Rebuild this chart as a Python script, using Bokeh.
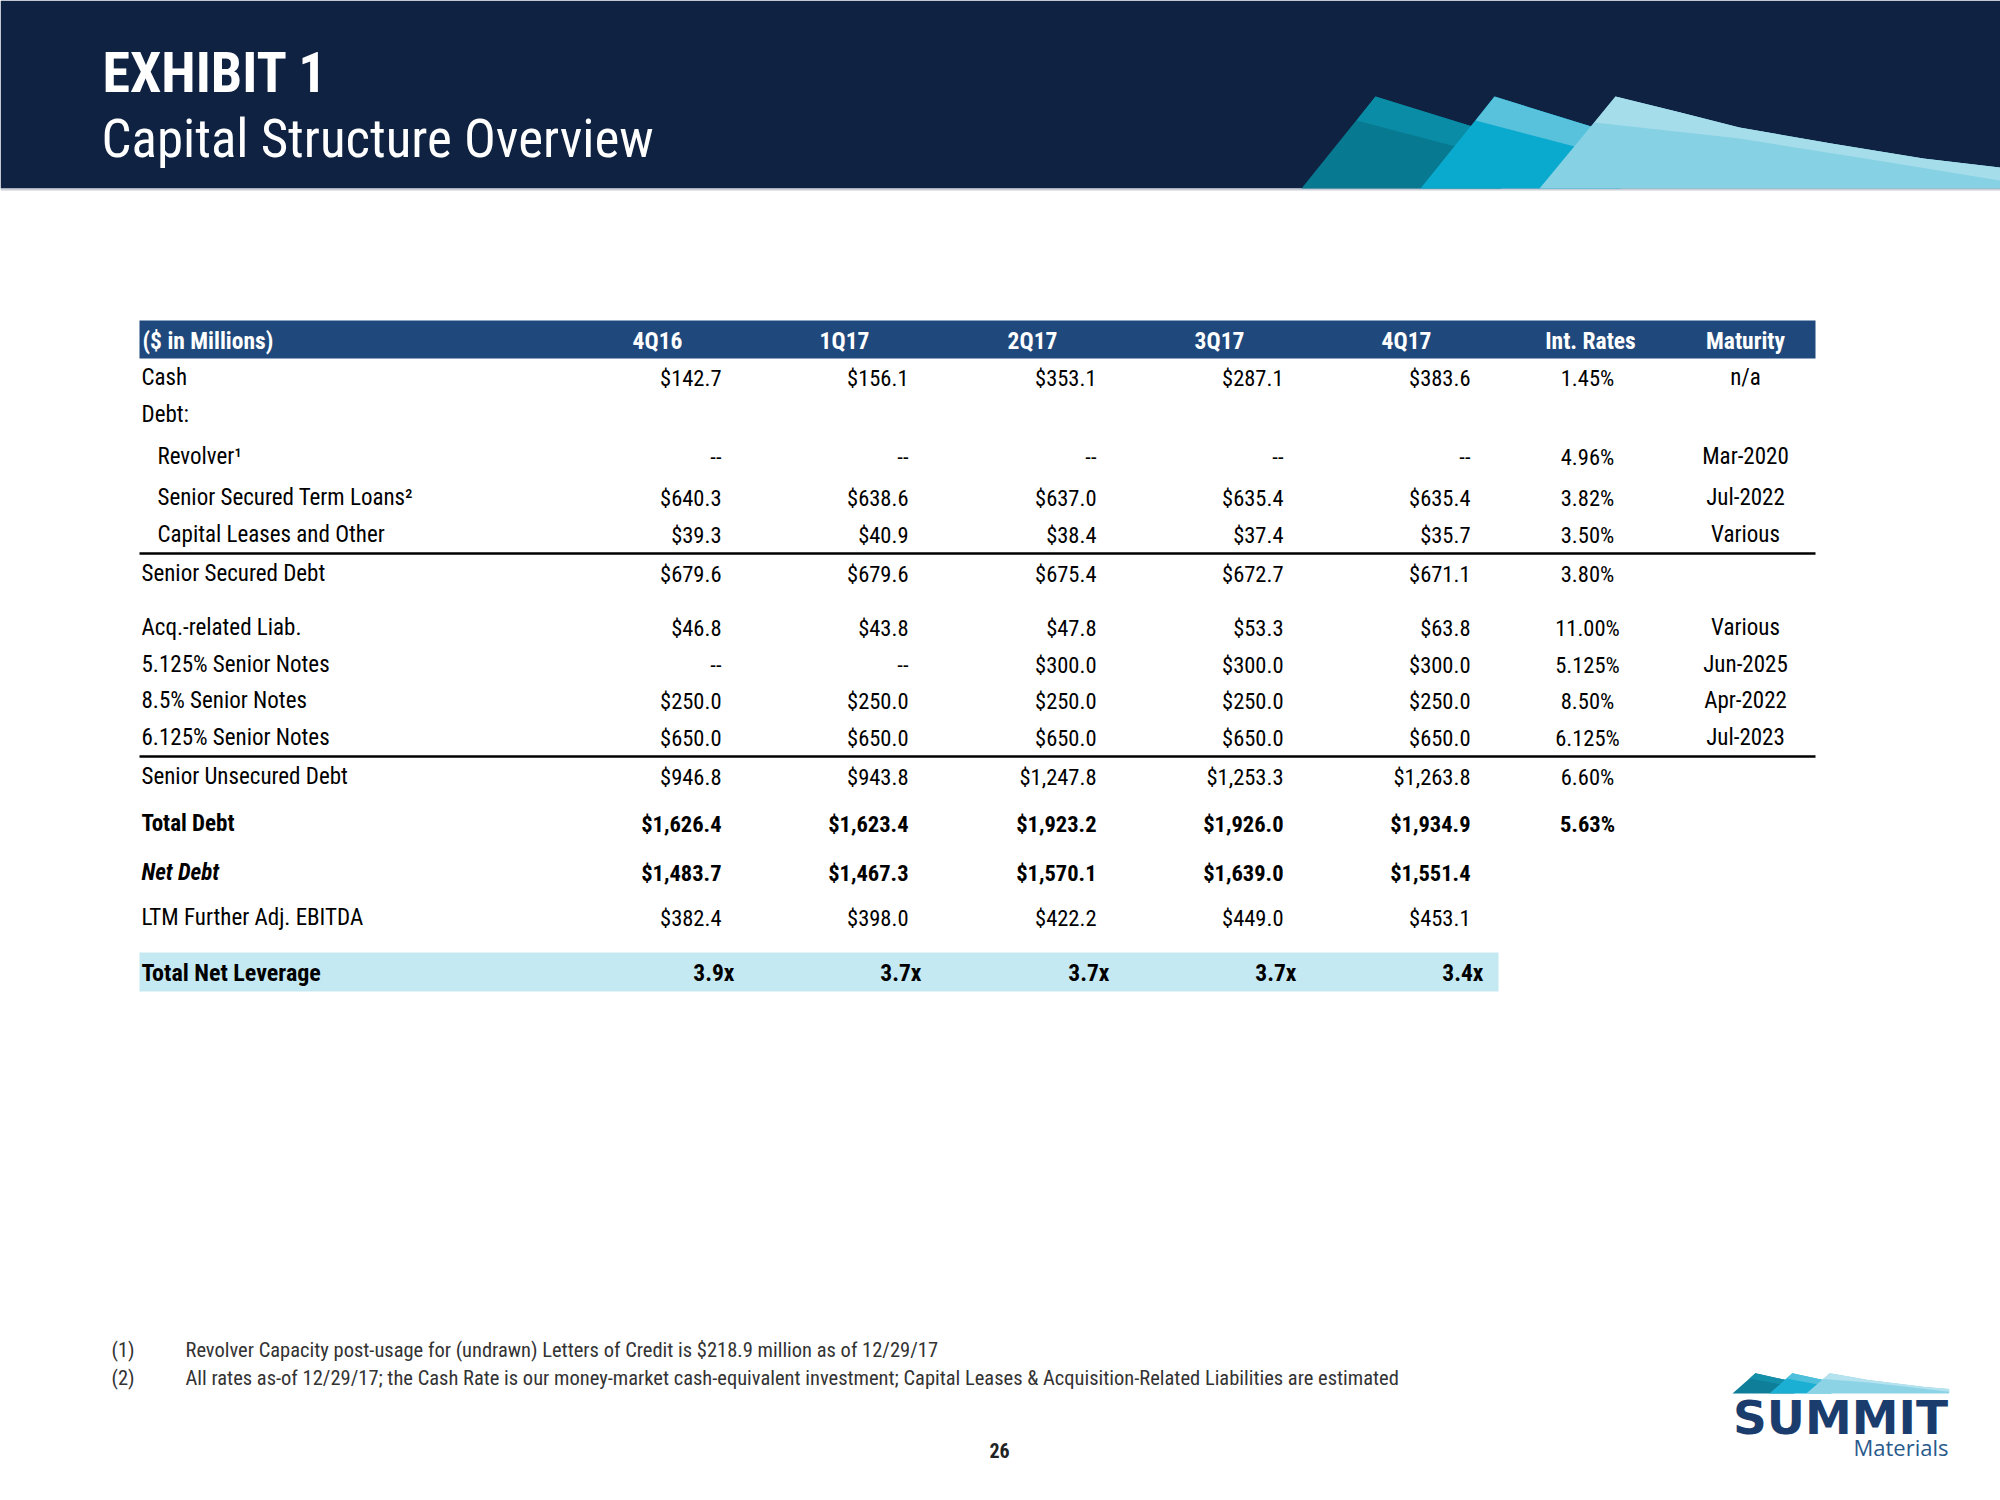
from bokeh.plotting import figure
from bokeh.models import Range1d, ColumnDataSource
from bokeh.core.properties import value
from bokeh.embed import file_html
from bokeh.resources import INLINE

NARROW = "Roboto Condensed, Liberation Sans"

# ---------------- data ----------------
title_1 = "EXHIBIT 1"
title_2 = "Capital Structure Overview"
corner_label = "($ in Millions)"
periods = ["4Q16", "1Q17", "2Q17", "3Q17", "4Q17"]
rate_header = "Int. Rates"
maturity_header = "Maturity"

cash = [142.7, 156.1, 353.1, 287.1, 383.6]
revolver = [None, None, None, None, None]
term_loans = [640.3, 638.6, 637.0, 635.4, 635.4]
capital_leases = [39.3, 40.9, 38.4, 37.4, 35.7]
senior_secured_debt = [679.6, 679.6, 675.4, 672.7, 671.1]
acq_liab = [46.8, 43.8, 47.8, 53.3, 63.8]
notes_5125 = [None, None, 300.0, 300.0, 300.0]
notes_85 = [250.0, 250.0, 250.0, 250.0, 250.0]
notes_6125 = [650.0, 650.0, 650.0, 650.0, 650.0]
senior_unsecured_debt = [946.8, 943.8, 1247.8, 1253.3, 1263.8]
total_debt = [1626.4, 1623.4, 1923.2, 1926.0, 1934.9]
net_debt = [1483.7, 1467.3, 1570.1, 1639.0, 1551.4]
ltm_ebitda = [382.4, 398.0, 422.2, 449.0, 453.1]
net_leverage = [3.9, 3.7, 3.7, 3.7, 3.4]

row_labels = ["Cash", "Debt:", "Revolver\u00b9", "Senior Secured Term Loans\u00b2",
              "Capital Leases and Other", "Senior Secured Debt", "Acq.-related Liab.",
              "5.125% Senior Notes", "8.5% Senior Notes", "6.125% Senior Notes",
              "Senior Unsecured Debt", "Total Debt", "Net Debt", "LTM Further Adj. EBITDA"]
row_values = [cash, None, revolver, term_loans, capital_leases, senior_secured_debt,
              acq_liab, notes_5125, notes_85, notes_6125, senior_unsecured_debt,
              total_debt, net_debt, ltm_ebitda]
int_rates = ["1.45%", "", "4.96%", "3.82%", "3.50%", "3.80%", "11.00%", "5.125%",
             "8.50%", "6.125%", "6.60%", "5.63%", "", ""]
maturities = ["n/a", "", "Mar-2020", "Jul-2022", "Various", "", "Various", "Jun-2025",
              "Apr-2022", "Jul-2023", "", "", "", ""]
leverage_label = "Total Net Leverage"

footnote_marks = ["(1)", "(2)"]
footnotes = ["Revolver Capacity post-usage for (undrawn) Letters of Credit is $218.9 million as of 12/29/17",
             "All rates as-of 12/29/17; the Cash Rate is our money-market cash-equivalent investment; "
             "Capital Leases & Acquisition-Related Liabilities are estimated"]
page_number = "26"

# ---------------- layout (pixel positions on the 2000x1500 slide) ----------------
row_y = [377, 414, 456, 497, 534, 573, 627, 664, 700, 737, 776, 823, 872, 917]
row_indent = [0, 0, 1, 1, 1, 0, 0, 0, 0, 0, 0, 0, 0, 0]
row_style = ["n", "n", "n", "n", "n", "n", "n", "n", "n", "n", "n", "b", "bi", "n"]
col_right = [721, 908, 1096, 1283, 1470]
rate_x, mat_x = 1587, 1745
tbl_left, tbl_right = 139, 1815
rule_y = [553, 756]
lev_y = 972

W, H = 2000, 1500
p = figure(width=W, height=H, x_range=Range1d(0, W), y_range=Range1d(H, 0),
           output_backend="svg", toolbar_location=None, min_border=0)
p.axis.visible = False
p.grid.visible = False
p.outline_line_color = None
p.background_fill_color = "white"
p.border_fill_color = "white"


def txt(xs, ys, texts, size, align="left", style="normal", color="black",
        font=NARROW, baseline="middle"):
    src = ColumnDataSource(dict(x=xs, y=ys, t=texts))
    p.text("x", "y", "t", source=src, text_font=value(font), text_font_size=f"{size}px",
           text_align=align, text_baseline=baseline, text_font_style=style,
           text_color=color)


def mountains(x0, yb, sx, sy, cols):
    # three overlapping ridge shapes (decorative brand graphic)
    peaks = [0, 119, 238]
    for i, dx in enumerate(peaks):
        base_c, top_c = cols[i]
        if i < 2:
            body = [(dx, 0), (dx + 74, -92), (dx + 200, -53), (dx + 200, 0)]
            stripe = [(dx + 55, -68), (dx + 74, -92), (dx + 200, -53), (dx + 200, -30)]
        else:
            body = [(dx, 0), (dx + 76, -92), (dx + 141, -76), (dx + 200, -61), (dx + 292, -45),
                    (dx + 384, -30), (dx + 461, -21), (dx + 461, 0)]
            stripe = [(dx + 55, -66), (dx + 76, -92), (dx + 141, -76), (dx + 200, -61),
                      (dx + 292, -45), (dx + 384, -30), (dx + 461, -21), (dx + 461, -8),
                      (dx + 338, -28), (dx + 200, -50)]
        for poly, c in ((body, base_c), (stripe, top_c)):
            p.patch([x0 + sx * a for a, b in poly], [yb + sy * b for a, b in poly],
                    fill_color=c, line_color=None)


# header band
p.quad(left=0, right=2000, top=0, bottom=188, fill_color="#0F2241", line_color=None)
p.quad(left=0, right=2000, top=188, bottom=190, fill_color="#C9CED8", line_color=None)
mountains(1301, 188, 1.0, 1.0, [("#077A91", "#0B8CA6"), ("#0AAACF", "#58C1DC"),
                                 ("#86D1E4", "#A6DDEA")])
txt([102], [72], [title_1], 56, style="bold", color="white")
txt([101], [138], [title_2], 53, color="white")

# table header
p.quad(left=tbl_left, right=tbl_right, top=320, bottom=358, fill_color="#1F497D", line_color=None)
txt([142], [340], [corner_label], 23.5, style="bold", color="white")
txt([c - 64 for c in col_right], [340] * 5, periods, 23.5, align="center", style="bold", color="white")
txt([rate_x + 3], [340], [rate_header], 23.5, align="center", style="bold", color="white")
txt([mat_x], [340], [maturity_header], 23.5, align="center", style="bold", color="white")

# body rows
for lab, vals, rate, mat, y, ind, st in zip(row_labels, row_values, int_rates, maturities,
                                            row_y, row_indent, row_style):
    lab_style = {"n": "normal", "b": "bold", "bi": "bold italic"}[st]
    val_style = "normal" if st == "n" else "bold"
    txt([141 + 16 * ind], [y], [lab], 23, style=lab_style)
    if vals is not None:
        strs = ["--" if v is None else "${:,.1f}".format(v) for v in vals]
        txt(col_right, [y] * 5, strs, 22.5, align="right", style=val_style)
    if rate:
        txt([rate_x], [y], [rate], 22.5, align="center", style=val_style)
    if mat:
        txt([mat_x], [y], [mat], 23, align="center")

for ry in rule_y:
    p.line([tbl_left, tbl_right], [ry, ry], line_color="black", line_width=2.5)

# leverage band
p.quad(left=tbl_left, right=1498, top=952, bottom=991, fill_color="#C4E9F2", line_color=None)
txt([141], [lev_y], [leverage_label], 24, style="bold")
txt([c + 13 for c in col_right], [lev_y] * 5, ["{:.1f}x".format(v) for v in net_leverage],
    23.5, align="right", style="bold")

# footnotes
txt([111, 111], [1349, 1377], footnote_marks, 20.5, color="#333333")
txt([185, 185], [1349, 1377], footnotes, 20.5, color="#333333")
txt([999], [1450], [page_number], 20, align="center", style="bold", color="#222222")

# logo
mountains(1732, 1393, 0.31, 0.22, [("#0F7E98", "#138FAA"), ("#1BB0D3", "#4EC0DC"),
                                    ("#8DD3E6", "#B4E2EE")])
txt([1840], [1417], ["SUMMIT"], 47, align="center", style="bold", color="#1B3D6E",
    font="DejaVu Sans")
txt([1948], [1446], ["Materials"], 22, align="right", color="#2A5A8C", font="Open Sans")

open("out.html", "w").write(file_html(p, INLINE))
